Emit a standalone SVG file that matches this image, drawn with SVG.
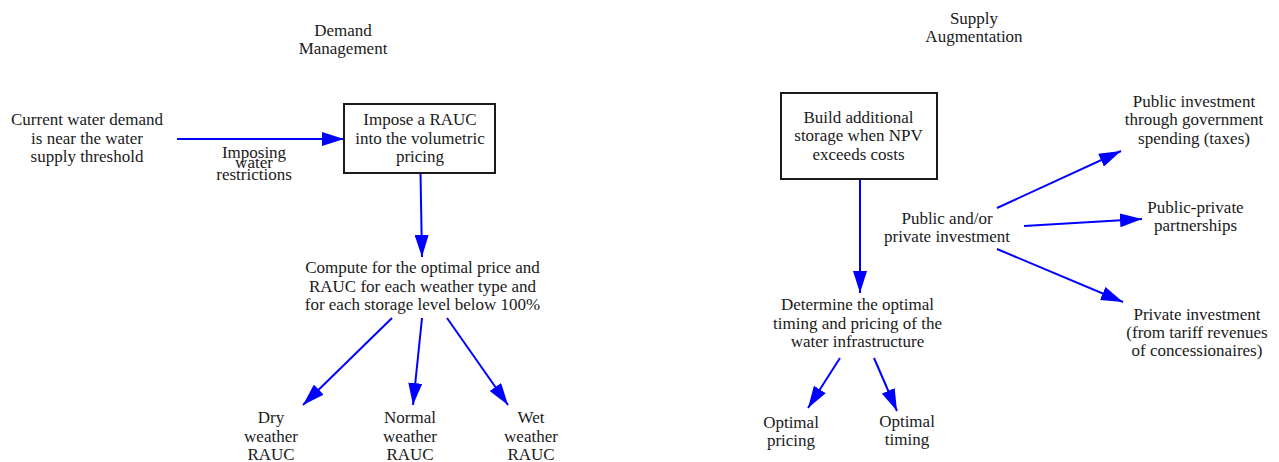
<svg xmlns="http://www.w3.org/2000/svg" width="1279" height="462" viewBox="0 0 1279 462">
  <style>
    text { font-family: "Liberation Serif", "Times New Roman", serif; font-size: 17px; fill: #1a1a1a; text-anchor: middle; }
    .box { fill: #ffffff; stroke: #1a1a1a; stroke-width: 2; }
    .edge { stroke: #0000ff; stroke-width: 2; fill: none; marker-end: url(#arrow); }
  </style>
  <defs>
    <marker id="arrow" markerUnits="userSpaceOnUse" markerWidth="22" markerHeight="14" refX="22" refY="7" orient="auto">
      <path d="M0,0 L22,7 L0,14 z" fill="#0000ff"/>
    </marker>
  </defs>
  <rect width="1279" height="462" fill="#ffffff"/>

  <!-- section titles -->
  <g id="title-demand">
    <text x="343" y="36">Demand</text>
    <text x="343" y="54">Management</text>
  </g>
  <g id="title-supply">
    <text x="974" y="24">Supply</text>
    <text x="974" y="42">Augmentation</text>
  </g>

  <!-- connectors -->
  <g id="connectors">
    <line class="edge" x1="177" y1="139" x2="344" y2="139"/>
    <line class="edge" x1="420.5" y1="173" x2="422" y2="257"/>
    <line class="edge" x1="392" y1="318" x2="303" y2="405"/>
    <line class="edge" x1="422" y1="318" x2="413" y2="405"/>
    <line class="edge" x1="447" y1="318" x2="508" y2="405"/>
    <line class="edge" x1="860" y1="179" x2="860" y2="293"/>
    <line class="edge" x1="840" y1="358" x2="808" y2="408"/>
    <line class="edge" x1="874" y1="358" x2="897" y2="411"/>
    <line class="edge" x1="997" y1="208" x2="1121" y2="151"/>
    <line class="edge" x1="1024" y1="226" x2="1142" y2="219"/>
    <line class="edge" x1="997" y1="249" x2="1123" y2="302"/>
  </g>

  <!-- edge label: lines are tightly packed -->
  <g id="label-restrictions">
    <text x="254" y="158">Imposing</text>
    <text x="254" y="168">water</text>
    <text x="254" y="180">restrictions</text>
  </g>

  <!-- demand management nodes -->
  <g id="node-demand">
    <text x="87" y="125">Current water demand</text>
    <text x="87" y="143.5">is near the water</text>
    <text x="87" y="162">supply threshold</text>
  </g>
  <g id="node-rauc">
    <rect class="box" x="344" y="104" width="151" height="69"/>
    <text x="420" y="125">Impose a RAUC</text>
    <text x="420" y="143.5">into the volumetric</text>
    <text x="420" y="162">pricing</text>
  </g>
  <g id="node-compute">
    <text x="422.5" y="273">Compute for the optimal price and</text>
    <text x="422.5" y="291.5">RAUC for each weather type and</text>
    <text x="422.5" y="310">for each storage level below 100%</text>
  </g>
  <g id="node-dry">
    <text x="271" y="423">Dry</text>
    <text x="271" y="441.5">weather</text>
    <text x="271" y="460">RAUC</text>
  </g>
  <g id="node-normal">
    <text x="410" y="423">Normal</text>
    <text x="410" y="441.5">weather</text>
    <text x="410" y="460">RAUC</text>
  </g>
  <g id="node-wet">
    <text x="531" y="423">Wet</text>
    <text x="531" y="441.5">weather</text>
    <text x="531" y="460">RAUC</text>
  </g>

  <!-- supply augmentation nodes -->
  <g id="node-storage">
    <rect class="box" x="781" y="93" width="156" height="86"/>
    <text x="858.5" y="122.5">Build additional</text>
    <text x="858.5" y="141">storage when NPV</text>
    <text x="858.5" y="159.5">exceeds costs</text>
  </g>
  <g id="node-determine">
    <text x="857.5" y="310">Determine the optimal</text>
    <text x="857.5" y="328.5">timing and pricing of the</text>
    <text x="857.5" y="347">water infrastructure</text>
  </g>
  <g id="node-opt-pricing">
    <text x="791" y="428">Optimal</text>
    <text x="791" y="446">pricing</text>
  </g>
  <g id="node-opt-timing">
    <text x="907" y="426.5">Optimal</text>
    <text x="907" y="444.5">timing</text>
  </g>
  <g id="node-investment">
    <text x="947" y="223.5">Public and/or</text>
    <text x="947" y="242">private investment</text>
  </g>
  <g id="node-public">
    <text x="1194" y="106.5">Public investment</text>
    <text x="1194" y="125">through government</text>
    <text x="1194" y="143.5">spending (taxes)</text>
  </g>
  <g id="node-ppp">
    <text x="1195.5" y="212.5">Public-private</text>
    <text x="1195.5" y="231">partnerships</text>
  </g>
  <g id="node-private">
    <text x="1197" y="319.5">Private investment</text>
    <text x="1197" y="338">(from tariff revenues</text>
    <text x="1197" y="356">of concessionaires)</text>
  </g>
</svg>
